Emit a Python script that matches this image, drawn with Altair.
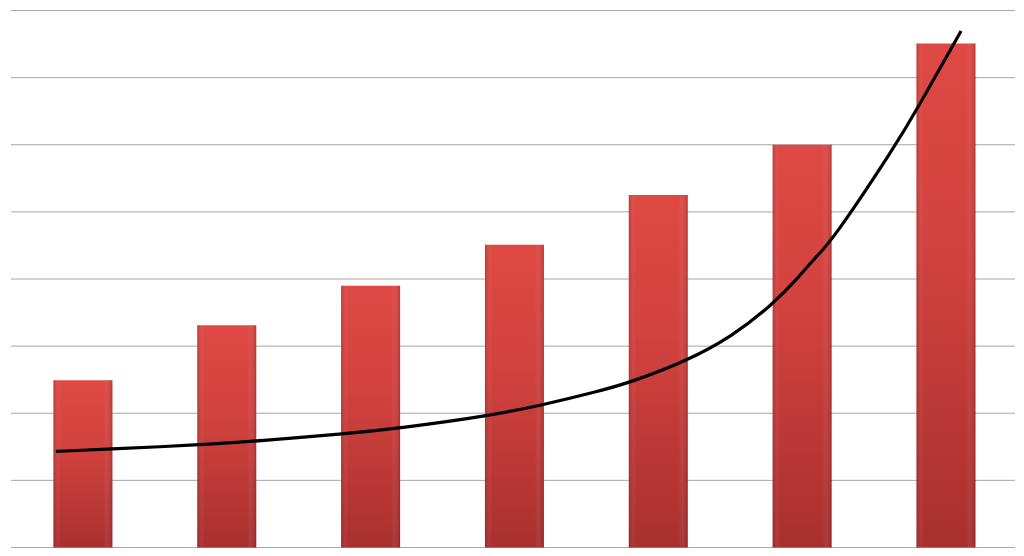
import altair as alt
import pandas as pd

# Bar data
categories = [1, 2, 3, 4, 5, 6, 7]
values = [2.49, 3.31, 3.90, 4.51, 5.25, 6.00, 7.51]

# Trend curve data
curve_x = [0.812, 1.208, 1.804, 2.235, 2.810, 3.206, 3.810, 4.177, 4.594, 4.802,
           5.197, 5.516, 5.794, 5.981, 6.106, 6.203, 6.654, 6.793, 7.105]
curve_y = [1.431, 1.468, 1.527, 1.591, 1.690, 1.779, 1.957, 2.113, 2.332, 2.457,
           2.777, 3.148, 3.618, 4.038, 4.359, 4.552, 6.005, 6.509, 7.696]

# Horizontal gridline levels
grid_values = [0, 1, 2, 3, 4, 5, 6, 7, 8]

x_domain = [0.5, 7.48]
y_domain = [0, 8]

half = 0.205
bars_df = pd.DataFrame({
    "cat": categories,
    "x0": [c - half for c in categories],
    "x1": [c + half for c in categories],
    "v": values,
})
curve_df = pd.DataFrame({"x": curve_x, "y": curve_y})
grid_df = pd.DataFrame({
    "g": grid_values,
    "xa": [x_domain[0]] * len(grid_values),
    "xb": [x_domain[1]] * len(grid_values),
})

xscale = alt.Scale(domain=x_domain, nice=False, zero=False)
yscale = alt.Scale(domain=y_domain, nice=False)

grid = alt.Chart(grid_df).mark_rule(color="#a6a6a6", strokeWidth=1).encode(
    y=alt.Y("g:Q", scale=yscale, axis=None),
    x=alt.X("xa:Q", scale=xscale, axis=None),
    x2="xb:Q",
)

base = alt.Chart(bars_df)

bars = base.mark_rect(
    color=alt.Gradient(
        gradient="linear",
        stops=[
            alt.GradientStop(color="#de4944", offset=0),
            alt.GradientStop(color="#d2423f", offset=0.4),
            alt.GradientStop(color="#a8302f", offset=1),
        ],
        x1=0, x2=0, y1=0, y2=1,
    )
).encode(
    x=alt.X("x0:Q", scale=xscale, axis=None),
    x2="x1:Q",
    y=alt.Y("v:Q", scale=yscale, axis=None),
    y2=alt.datum(0),
)

shade = base.mark_rect(
    color=alt.Gradient(
        gradient="linear",
        stops=[
            alt.GradientStop(color="rgba(90,0,0,0.22)", offset=0),
            alt.GradientStop(color="rgba(255,255,255,0.0)", offset=0.12),
            alt.GradientStop(color="rgba(255,255,255,0.0)", offset=0.85),
            alt.GradientStop(color="rgba(90,0,0,0.25)", offset=1),
        ],
        x1=0, x2=1, y1=0, y2=0,
    )
).encode(
    x=alt.X("x0:Q", scale=xscale, axis=None),
    x2="x1:Q",
    y=alt.Y("v:Q", scale=yscale, axis=None),
    y2=alt.datum(0),
)

curve = alt.Chart(curve_df).mark_line(
    color="black", strokeWidth=3.2, interpolate="basis"
).encode(
    x=alt.X("x:Q", scale=xscale, axis=None),
    y=alt.Y("y:Q", scale=yscale, axis=None),
)

chart = alt.layer(grid, bars, shade, curve).properties(
    width=1006,
    height=538,
    padding={"left": 2, "top": 1, "right": 0, "bottom": 0},
    background="white",
).configure_view(stroke=None)

chart.save("out.html", embed_options={"renderer": "svg", "actions": False})
